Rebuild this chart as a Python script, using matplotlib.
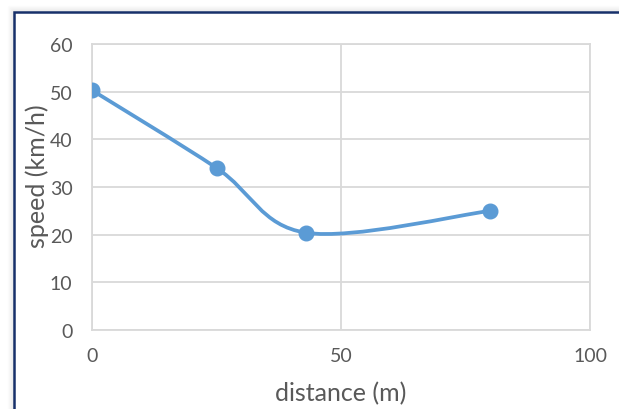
import numpy as np
import matplotlib
matplotlib.use("Agg")
import matplotlib.pyplot as plt
from matplotlib.path import Path
from matplotlib.patches import PathPatch, Rectangle

distance = [0, 25, 43, 80]
speed = [50.3, 34.0, 20.4, 25.0]
x_ticks = [0, 50, 100]
y_ticks = [0, 10, 20, 30, 40, 50, 60]

blue = "#5b9bd5"
grid_c = "#d9d9d9"
txt_c = "#595959"
font = dict(family="Lato", color=txt_c)

fig = plt.figure(figsize=(6.19, 4.10), dpi=100)
ax = fig.add_axes([92/619, 1-331/410, 498/619, 286/410])

# smoothed line (Excel style catmull-rom bezier)
pts = np.column_stack([distance, speed])
verts = [tuple(pts[0])]
codes = [Path.MOVETO]
n = len(pts)
for i in range(n - 1):
    p0 = pts[max(i - 1, 0)]
    p1 = pts[i]
    p2 = pts[i + 1]
    p3 = pts[min(i + 2, n - 1)]
    c1 = p1 + (p2 - p0) / 6
    c2 = p2 - (p3 - p1) / 6
    verts += [tuple(c1), tuple(c2), tuple(p2)]
    codes += [Path.CURVE4] * 3
ax.add_patch(PathPatch(Path(verts, codes), fill=False, edgecolor=blue, lw=2.7,
                       capstyle="round", zorder=3))
ax.plot(distance, speed, "o", color=blue, markersize=10.5, zorder=4)

ax.set_xlim(0, 100)
ax.set_ylim(0, 60)
ax.set_xticks(x_ticks)
ax.set_yticks(y_ticks)
ax.grid(True, color=grid_c, lw=1.3)
ax.set_axisbelow(True)
for s in ax.spines.values():
    s.set_color(grid_c)
    s.set_linewidth(1.3)
ax.tick_params(axis="y", length=0, pad=14)
ax.tick_params(axis="x", length=0, pad=12)
for lab in ax.get_xticklabels() + ax.get_yticklabels():
    lab.set_fontsize(14)
    lab.set_family("Lato")
    lab.set_color(txt_c)

fig.text(341/619, 1-394/410, "distance (m)", fontsize=18, ha="center", va="center", **font)
fig.text(37/619, 1-176/410, "speed (km/h)", fontsize=18, ha="center", va="center",
         rotation=90, **font)

# frame with soft shadow
for k in range(6):
    fig.add_artist(Rectangle(((13 - k)/619, -0.1), 1.2, (1 - (12 - k)/410) + 0.1,
                             transform=fig.transFigure, fill=False,
                             edgecolor="black", lw=1, alpha=0.06*(6-k)/6, zorder=0))
fig.add_artist(Rectangle((14/619, -0.1), 1.2, (1 - 13/410) + 0.1,
                         transform=fig.transFigure, fill=False,
                         edgecolor="#17306a", lw=1.8, zorder=1))

fig.savefig("out.png", dpi=100)
